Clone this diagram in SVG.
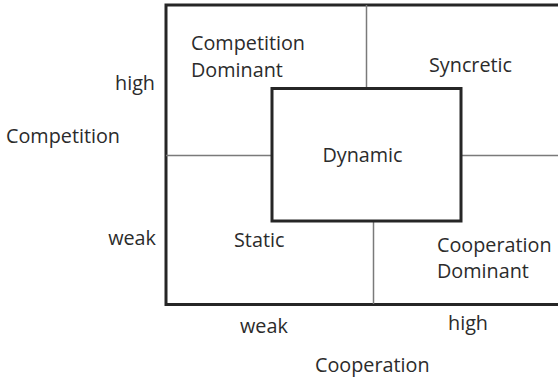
<svg xmlns="http://www.w3.org/2000/svg" width="558" height="380" viewBox="0 0 558 380">
  <style>
    .lbl { font-family: "Open Sans", "Noto Sans", sans-serif; font-size: 19.8px; fill: #2b2b2b; }
    .frame { fill: none; stroke: #262626; stroke-width: 3; }
    .div { fill: none; stroke: #7a7a7a; stroke-width: 1.5; }
  </style>
  <rect width="558" height="380" fill="#fff"/>

  <!-- quadrant frame (open on the right) -->
  <g id="frame">
    <path class="frame" d="M560,5 H166 V304.5 H560"/>
  </g>

  <!-- dividing lines between quadrants -->
  <g id="connectors">
    <line class="div" x1="366.5" y1="5" x2="366.5" y2="88"/>
    <line class="div" x1="166" y1="155.5" x2="272" y2="155.5"/>
    <line class="div" x1="461" y1="155.5" x2="560" y2="155.5"/>
    <line class="div" x1="373.5" y1="221" x2="373.5" y2="304"/>
  </g>

  <g id="competition-dominant">
    <text class="lbl" x="191" y="50">Competition</text>
    <text class="lbl" x="191" y="77">Dominant</text>
  </g>

  <g id="syncretic">
    <text class="lbl" x="429" y="72">Syncretic</text>
  </g>

  <g id="dynamic">
    <rect class="frame" x="272" y="88.5" width="189" height="132.5" fill="#fff"/>
    <text class="lbl" x="362.5" y="162" text-anchor="middle">Dynamic</text>
  </g>

  <g id="static">
    <text class="lbl" x="234" y="247">Static</text>
  </g>

  <g id="cooperation-dominant">
    <text class="lbl" x="437" y="252">Cooperation</text>
    <text class="lbl" x="437" y="278">Dominant</text>
  </g>

  <!-- axis labels -->
  <g id="axis-competition">
    <text class="lbl" x="155" y="90" text-anchor="end">high</text>
    <text class="lbl" x="6" y="143">Competition</text>
    <text class="lbl" x="156" y="245" text-anchor="end">weak</text>
  </g>

  <g id="axis-cooperation">
    <text class="lbl" x="240" y="333">weak</text>
    <text class="lbl" x="448" y="330">high</text>
    <text class="lbl" x="315" y="372">Cooperation</text>
  </g>
</svg>
